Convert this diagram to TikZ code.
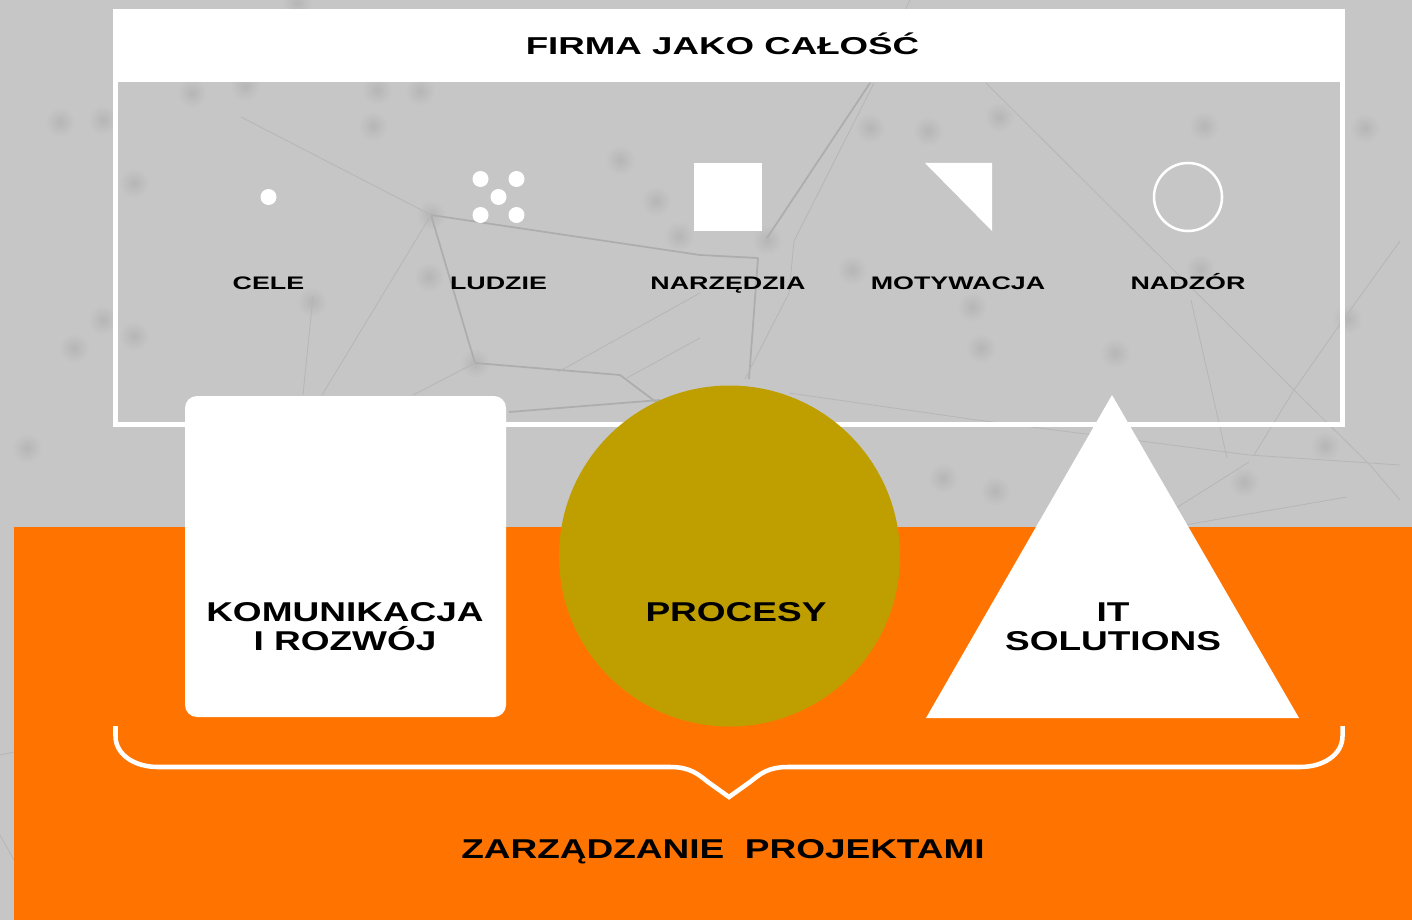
\documentclass[tikz,border=0pt]{standalone}
\usepackage{fontspec}
\setmainfont{Liberation Sans}
\newfontfamily\titlefont[FakeStretch=1.504]{Liberation Sans Bold}
\newfontfamily\labelfont[FakeStretch=1.48]{Liberation Sans Bold}
\newfontfamily\bigfont[FakeStretch=1.36]{Liberation Sans Bold}
\definecolor{bgrey}{HTML}{C6C6C6}
\definecolor{netgrey}{HTML}{B6B6B6}
\definecolor{netdark}{HTML}{ADADAD}
\definecolor{spotgrey}{HTML}{B6B6B6}
\definecolor{porange}{HTML}{FF7400}
\definecolor{pgold}{HTML}{BF9F00}
\tikzset{
  netline/.style={draw=netgrey, line width=0.6pt},
  netthick/.style={draw=netdark, line width=1.3pt},
  titlelabel/.style={font=\titlefont\fontsize{18.3}{20}\selectfont, text=black, inner sep=0pt, anchor=base},
  toplabel/.style={font=\labelfont\fontsize{13.6}{15}\selectfont, text=black, inner sep=0pt, anchor=base},
  biglabel/.style={font=\bigfont\fontsize{20.4}{21.75}\selectfont, text=black, inner sep=0pt, align=center},
  whiteline/.style={draw=white, line width=3.75pt}
}
\begin{document}
\begin{tikzpicture}[x=0.75pt,y=-0.75pt]
\useasboundingbox (0,0) rectangle (1412,920);
\fill[bgrey] (0,0) rectangle (1412,920);
\foreach \x/\y in {103/120,60/122,103/320,134/336,134/183,192/93,245/86,377/90,420/91,373/126,620/160,656/201,679/236,429/277,312/302,74/348,27/448,297/3,870/128,928/131,999/117,1204/126,1365/128,852/270,981/348,1115/353,972/307,1200/269,1347/319,1325/446,1244/482,943/478,995/491,431/215,475/363,767/240}
  \shade[inner color=spotgrey, outer color=bgrey] (\x,\y) circle (15);
\draw[netthick] (431,215) -- (475,363);
\draw[netthick] (431,215) -- (700,255) -- (758,258);
\draw[netline] (431,215) -- (322,395);
\draw[netline] (431,215) -- (241,117);
\draw[netline] (475,363) -- (413,395);
\draw[netthick] (475,363) -- (620,375) -- (680,420);
\draw[netthick] (509,412) -- (660,400);
\draw[netline] (313,296) -- (303,395);
\draw[netline] (558,372) -- (700,293);
\draw[netline] (625,379) -- (700,338);
\draw[netthick] (767,238) -- (870,83);
\draw[netthick] (749,379) -- (758,258);
\draw[netline] (794,241) -- (874,83);
\draw[netline] (745,379) -- (789,293) -- (794,241);
\draw[netline] (870,83) -- (880,65) -- (910,0);
\draw[netline] (986,83) -- (1294,390) -- (1370,465) -- (1400,500);
\draw[netline] (1254,455) -- (1294,390) -- (1338,327) -- (1400,241);
\draw[netline] (789,393) -- (977,420) -- (1249,455) -- (1400,465);
\draw[netline] (1249,462) -- (1173,510);
\draw[netline] (1173,527) -- (1347,497);
\draw[netline] (1191,300) -- (1227,458);
\draw[netline] (0,755) -- (14,752);
\draw[netline] (0,835) -- (14,860);
\fill[porange] (14,527) rectangle (1412,920);
\fill[white] (113,9) rectangle (1345,82);
\draw[whiteline] (115.5,80) -- (115.5,424.5) -- (1342.5,424.5) -- (1342.5,80);
\node[titlelabel] (title) at (722.5,54.5) {FIRMA JAKO CAŁOŚĆ};
\fill[white] (268.5,197) circle (8);
\foreach \x/\y in {480.5/179,516.5/179,498.5/197,480.5/215,516.5/215}
  \fill[white] (\x,\y) circle (8);
\fill[white] (694,163) rectangle (762,231);
\fill[white] (925,163) -- (992,163) -- (992,231) -- cycle;
\draw[white, line width=1.9pt] (1188,197) circle (34);
\node[toplabel] (cele) at (268.5,289.5) {CELE};
\node[toplabel] (ludzie) at (498.5,289.5) {LUDZIE};
\node[toplabel] (narzedzia) at (728,289.5) {NARZĘDZIA};
\node[toplabel] (motywacja) at (958,289.5) {MOTYWACJA};
\node[toplabel] (nadzor) at (1188,289.5) {NADZÓR};
\fill[white, rounded corners=9pt] (185,396) rectangle (506,717);
\fill[pgold] (729.5,556) circle (170.5);
\fill[white] (1112,395) -- (1299,718) -- (926,718) -- cycle;
\node[biglabel] (komunikacja) at (345,626.5) {KOMUNIKACJA\\I ROZWÓJ};
\node[biglabel, anchor=base] (procesy) at (736,621.5) {PROCESY};
\node[biglabel] (solutions) at (1113,626.5) {IT\\SOLUTIONS};
\draw[draw=white, line width=3.4pt, line join=miter] (115.5,726) -- (115.5,736) .. controls (115.5,755) and (135,767) .. (158,767) -- (670,767) .. controls (690,767) and (698,774) .. (708,782) -- (729,797) -- (750,782) .. controls (760,774) and (768,767) .. (788,767) -- (1300,767) .. controls (1323,767) and (1342.5,755) .. (1342.5,736) -- (1342.5,726);
\node[biglabel, anchor=base] (zarzadzanie) at (723,858.5) {ZARZĄDZANIE\ \ PROJEKTAMI};
\end{tikzpicture}
\end{document}
